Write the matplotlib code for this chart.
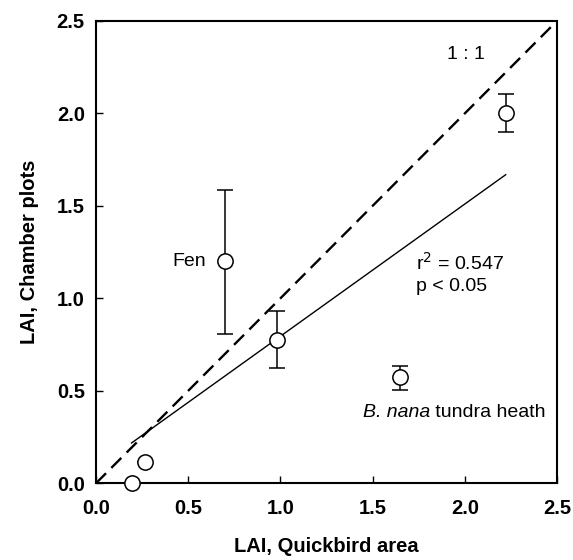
import matplotlib
matplotlib.use("Agg")
import matplotlib.pyplot as plt
import numpy as np

plt.rcParams['font.family'] = ['Liberation Sans', 'DejaVu Sans']

# Data
lai_quickbird = [0.193, 0.265, 0.698, 0.98, 1.649, 2.222]
lai_chamber = [0.0, 0.115, 1.20, 0.776, 0.574, 2.003]
err_low = [0.0, 0.0, 0.39, 0.155, 0.07, 0.105]
err_high = [0.0, 0.0, 0.385, 0.155, 0.062, 0.10]
fit_slope = 0.715
fit_intercept = 0.08
ticks = [0.0, 0.5, 1.0, 1.5, 2.0, 2.5]
tick_labels = ["0.0", "0.5", "1.0", "1.5", "2.0", "2.5"]

fig = plt.figure(figsize=(5.73, 5.60), dpi=100)
ax = fig.add_axes([0.1675, 0.137, 0.8045, 0.8255])

# 1:1 line
ax.plot([0, 2.5], [0, 2.5], color='black', lw=1.7, dashes=(6, 3.2), zorder=2)

# regression line
xf = np.array([min(lai_quickbird), max(lai_quickbird)])
ax.plot(xf, fit_intercept + fit_slope * xf, color='black', lw=1.0, zorder=2)

ax.errorbar(lai_quickbird, lai_chamber, yerr=[err_low, err_high], fmt='o',
            mfc='white', mec='black', mew=1.1, ms=11, ecolor='black',
            elinewidth=1.1, capsize=6, capthick=1.1, zorder=3, clip_on=False)

ax.set_xlim(0, 2.5)
ax.set_ylim(0, 2.5)
ax.set_xticks(ticks)
ax.set_xticklabels(tick_labels)
ax.set_yticks(ticks)
ax.set_yticklabels(tick_labels)
ax.tick_params(direction='in', length=5, width=1.0, labelsize=14.5,
               top=False, right=False)
ax.tick_params(axis='x', pad=11)
ax.tick_params(axis='y', pad=8)
for lab in ax.get_xticklabels() + ax.get_yticklabels():
    lab.set_fontweight('bold')
for s in ax.spines.values():
    s.set_linewidth(1.5)

ax.set_xlabel("LAI, Quickbird area", fontsize=14.5, fontweight='bold', labelpad=14)
ax.set_ylabel("LAI, Chamber plots", fontsize=14.5, fontweight='bold', labelpad=13)

fs = 14
ax.text(2.006, 2.318, "1 : 1", fontsize=fs, ha='center', va='center')
ax.text(0.598, 1.2, "Fen", fontsize=fs, ha='right', va='center')
ax.text(1.735, 1.194, r"r$^2$ = 0.547", fontsize=fs, ha='left', va='center')
ax.text(1.735, 1.064, "p < 0.05", fontsize=fs, ha='left', va='center')
t2 = ax.text(2.44, 0.36, " tundra heath", fontsize=fs, ha='right', va='baseline')
ax.annotate("B. nana", xy=(0, 0), xycoords=t2, ha='right', va='bottom',
            fontsize=fs, style='italic')

fig.savefig("out.png", dpi=100)
